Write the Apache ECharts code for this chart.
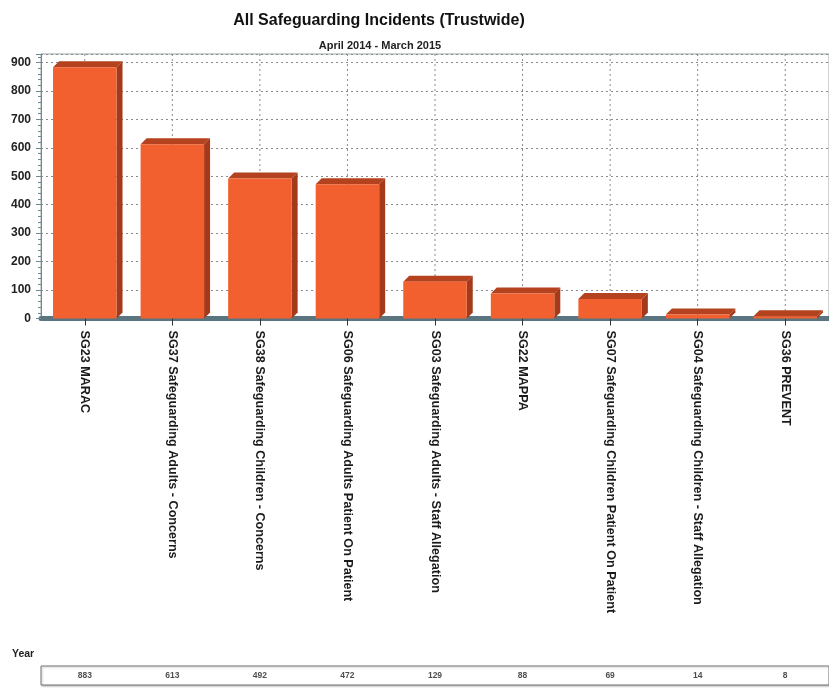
<!DOCTYPE html>
<html>
<head>
<meta charset="utf-8">
<script src="https://cdn.jsdelivr.net/npm/echarts@6/dist/echarts.min.js"></script>
<style>
html,body{margin:0;padding:0;background:#fff;}
#main{width:829px;height:689px;}
</style>
</head>
<body>
<div id="main"></div>
<script>
const titleText = 'All Safeguarding Incidents (Trustwide)';
const subtitleText = 'April 2014 - March 2015';
const categories = [
  'SG23 MARAC',
  'SG37 Safeguarding Adults - Concerns',
  'SG38 Safeguarding Children - Concerns',
  'SG06 Safeguarding Adults Patient On Patient',
  'SG03 Safeguarding Adults - Staff Allegation',
  'SG22 MAPPA',
  'SG07 Safeguarding Children Patient On Patient',
  'SG04 Safeguarding Children - Staff Allegation',
  'SG36 PREVENT'
];
const values = [883, 613, 492, 472, 129, 88, 69, 14, 8];
const tableRowLabel = 'Year';
const yMin = 0, yMax = 930, yInterval = 100;

const FONT = "'Liberation Sans', Arial, sans-serif";
const chart = echarts.init(document.getElementById('main'), null, {renderer: 'canvas'});

function renderBar(params, api) {
  const i = api.value(0), v = api.value(1);
  const base = api.coord([i, 0]);
  const top = api.coord([i, v]);
  const band = api.size([1, 0])[0];
  const w = band * 0.725;
  const d = 6;
  const x0 = base[0] - w / 2, x1 = base[0] + w / 2;
  const y0 = top[1], yb = base[1];
  return {
    type: 'group',
    children: [
      {type: 'polygon', shape: {points: [[x1, y0], [x1 + d, y0 - d], [x1 + d, yb - d], [x1, yb]]}, style: {fill: '#A53A1B'}},
      {type: 'polygon', shape: {points: [[x0, y0], [x0 + d, y0 - d], [x1 + d, y0 - d], [x1, y0]]}, style: {fill: '#B5421F'}},
      {type: 'rect', shape: {x: x0, y: y0, width: w, height: yb - y0}, style: {fill: '#F1602E'}}
    ]
  };
}

function renderVGrid(params, api) {
  const i = api.value(0);
  const base = api.coord([i, 0]);
  const cs = params.coordSys;
  return {
    type: 'line',
    shape: {x1: base[0], y1: cs.y, x2: base[0], y2: base[1]},
    style: {stroke: '#8a8a8a', lineWidth: 1, lineDash: [2, 3]}
  };
}

chart.setOption({
  backgroundColor: '#ffffff',
  animation: false,
  title: [
    {text: titleText, left: 374, top: 8, textAlign: 'center',
     textStyle: {fontFamily: FONT, fontSize: 16, fontWeight: 'bold', color: '#111'}},
    {text: subtitleText, left: 375, top: 35, textAlign: 'center',
     textStyle: {fontFamily: FONT, fontSize: 11, fontWeight: 'bold', color: '#222'}}
  ],
  grid: [
    {left: 41, top: 54, width: 792, height: 264.5, show: true, borderColor: '#9aa5a8', borderWidth: 1, backgroundColor: '#fff'},
    {left: 41, top: 666, width: 792, height: 19, show: true, borderColor: '#777', borderWidth: 1, backgroundColor: '#fff',
     shadowColor: 'rgba(0,0,0,0.25)', shadowBlur: 2, shadowOffsetX: 1, shadowOffsetY: 1}
  ],
  xAxis: [
    {type: 'category', gridIndex: 0, data: categories, offset: 3,
     axisLine: {show: true, lineStyle: {color: '#5a7580', width: 5}},
     axisTick: {show: true, alignWithLabel: true, length: 7, lineStyle: {color: '#333'}},
     axisLabel: {rotate: -90, interval: 0, margin: 9, fontFamily: FONT, fontSize: 12.6, fontWeight: 'bold', color: '#1a1a1a'},
     splitLine: {show: false}},
    {type: 'category', gridIndex: 1, data: categories, show: false}
  ],
  yAxis: [
    {type: 'value', gridIndex: 0, min: yMin, max: yMax, interval: yInterval,
     axisLine: {show: true, lineStyle: {color: '#6d8a90', width: 1}},
     axisTick: {show: true, length: 5, lineStyle: {color: '#6d8a90'}},
     minorTick: {show: true, splitNumber: 5, length: 3, lineStyle: {color: '#6d8a90'}},
     axisLabel: {showMaxLabel: false, margin: 10, fontFamily: FONT, fontSize: 12, fontWeight: 'bold', color: '#222'},
     splitLine: {show: true, lineStyle: {color: '#8a8a8a', width: 1, type: [2, 3]}}},
    {type: 'value', gridIndex: 1, min: 0, max: 1, show: false}
  ],
  graphic: [
    {type: 'text', left: 12, top: 649, style: {text: tableRowLabel, font: 'bold 10.5px ' + FONT, fill: '#222'}}
  ],
  series: [
    {type: 'custom', xAxisIndex: 0, yAxisIndex: 0, renderItem: renderVGrid, z: 1,
     data: values.map((v, i) => [i, v]), silent: true},
    {type: 'custom', xAxisIndex: 0, yAxisIndex: 0, renderItem: renderBar, z: 2,
     encode: {x: 0, y: 1}, data: values.map((v, i) => [i, v])},
    {type: 'scatter', xAxisIndex: 1, yAxisIndex: 1, symbolSize: 1,
     itemStyle: {color: 'transparent'},
     data: values.map((v, i) => [i, 0.5, v]),
     label: {show: true, position: 'inside', formatter: p => String(p.data[2]),
       fontFamily: FONT, fontSize: 8.5, fontWeight: 'bold', color: '#222'}}
  ]
});
</script>
</body>
</html>
